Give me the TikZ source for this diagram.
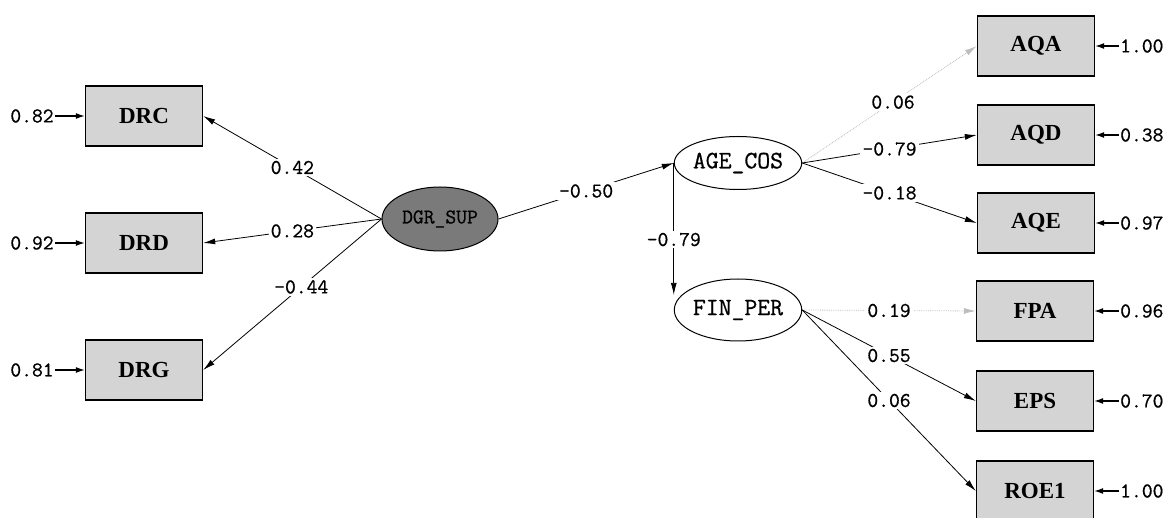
\documentclass[tikz,border=0pt]{standalone}
\usepackage{fontspec}
\setmainfont{Liberation Serif}
\newfontfamily\courf[FakeBold=0.8]{Latin Modern Mono}
\usetikzlibrary{arrows.meta,shapes.geometric}
\definecolor{boxgray}{HTML}{D4D4D4}
\definecolor{latgray}{HTML}{7A7A7A}
\definecolor{faint}{HTML}{BDBDBD}
\tikzset{
  obsbox/.style={draw=black,line width=1.4pt,fill=boxgray,minimum width=117pt,minimum height=60pt,inner sep=0pt,font=\fontsize{23}{23}\selectfont\bfseries},
  latent/.style={draw=black,line width=1pt,ellipse,fill=white,inner sep=0pt,font=\courf\fontsize{25}{25}\selectfont},
  latentdark/.style={latent,fill=latgray,text=black,font=\courf\fontsize{21}{21}\selectfont},
  lbl/.style={font=\courf\fontsize{21}{21}\selectfont,fill=white,inner sep=2pt},
  errlbl/.style={font=\courf\fontsize{21}{21}\selectfont,inner sep=1pt},
  path/.style={line width=0.8pt,-{Latex[length=12pt,width=6pt]}},
  faintpath/.style={path,draw=faint,densely dotted,-{Latex[length=12pt,width=6pt,color=faint]}},
  errarrow/.style={line width=1.2pt,-{Latex[length=9pt,width=6pt]}}
}
\begin{document}
\begin{tikzpicture}[x=1pt,y=-1pt]
\useasboundingbox (0,0) rectangle (1172,518);

% observed boxes left
\node[obsbox] (DRC) at (144,116) {DRC};
\node[obsbox] (DRD) at (144,243) {DRD};
\node[obsbox] (DRG) at (144,370) {DRG};

% latent variables
\node[latentdark,minimum width=116pt,minimum height=64pt] (DGR) at (440,219) {DGR\_SUP};
\node[latent,minimum width=117pt,minimum height=53pt] (AGE) at (738,163) {AGE\_COS};
\node[latent,minimum width=119pt,minimum height=62pt] (FIN) at (738,310) {FIN\_PER};

% observed boxes right
\node[obsbox] (AQA) at (1036,46) {AQA};
\node[obsbox] (AQD) at (1036,135) {AQD};
\node[obsbox] (AQE) at (1036,223) {AQE};
\node[obsbox] (FPA) at (1035,311) {FPA};
\node[obsbox] (EPS) at (1035,401) {EPS};
\node[obsbox] (ROE) at (1035,491) {ROE1};

% left error terms
\node[errlbl] (eDRC) at (32,116) {0.82};
\node[errlbl] (eDRD) at (32,243) {0.92};
\node[errlbl] (eDRG) at (32,370) {0.81};
\draw[errarrow] (eDRC.east) -- (DRC.west);
\draw[errarrow] (eDRD.east) -- (DRD.west);
\draw[errarrow] (eDRG.east) -- (DRG.west);

% right error terms
\node[errlbl,anchor=west] (eAQA) at (1119,46) {1.00};
\node[errlbl,anchor=west] (eAQD) at (1119,135) {0.38};
\node[errlbl,anchor=west] (eAQE) at (1119,223) {0.97};
\node[errlbl,anchor=west] (eFPA) at (1119,311) {0.96};
\node[errlbl,anchor=west] (eEPS) at (1119,401) {0.70};
\node[errlbl,anchor=west] (eROE) at (1119,491) {1.00};
\draw[errarrow] (eAQA.west) -- (AQA.east);
\draw[errarrow] (eAQD.west) -- (AQD.east);
\draw[errarrow] (eAQE.west) -- (AQE.east);
\draw[errarrow] (eFPA.west) -- (FPA.east);
\draw[errarrow] (eEPS.west) -- (EPS.east);
\draw[errarrow] (eROE.west) -- (ROE.east);

% DGR_SUP loadings
\draw[path] (DGR.west) -- node[lbl,pos=0.5] {0.42} (DRC.east);
\draw[path] (DGR.west) -- node[lbl,pos=0.5] {0.28} (DRD.east);
\draw[path] (DGR.west) -- node[lbl,pos=0.45] {-0.44} (DRG.east);

% structural paths
\draw[path] (DGR.east) -- node[lbl,pos=0.5] {-0.50} (AGE.west);
\coordinate (finin) at (AGE.west |- FIN.165);
\draw[path] (AGE.west) -- node[lbl,pos=0.58] {-0.79} (finin);

% AGE_COS loadings
\draw[faintpath] (AGE.east) -- node[lbl,pos=0.52,text=black] {0.06} (AQA.west);
\draw[path] (AGE.east) -- node[lbl,pos=0.5] {-0.79} (AQD.west);
\draw[path] (AGE.east) -- node[lbl,pos=0.5] {-0.18} (AQE.west);

% FIN_PER loadings
\draw[faintpath] (FIN.east) -- node[lbl,pos=0.5,text=black] {0.19} (FPA.west);
\draw[path] (FIN.east) -- node[lbl,pos=0.5] {0.55} (EPS.west);
\draw[path] (FIN.east) -- node[lbl,pos=0.5] {0.06} (ROE.west);
\end{tikzpicture}
\end{document}
